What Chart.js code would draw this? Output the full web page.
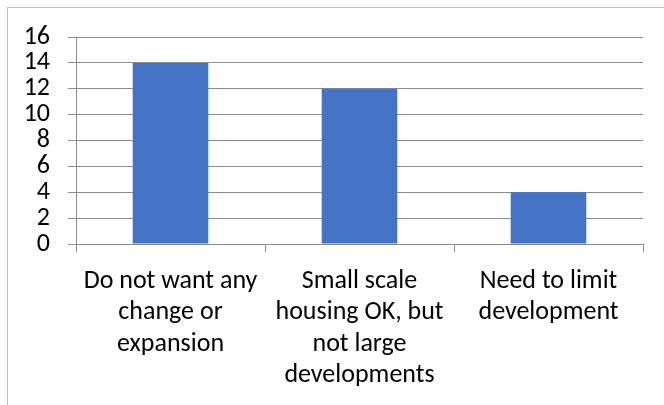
<!DOCTYPE html>
<html>
<head>
<meta charset="utf-8">
<script src="https://cdn.jsdelivr.net/npm/chart.js@4.4.0/dist/chart.umd.min.js"></script>
<style>
    html, body { margin: 0; padding: 0; background: #fff; overflow: hidden; }
    #frame {
        position: absolute; left: 7px; top: 7px; width: 700px; height: 450px;
        border: 1px solid #bfbfbf; box-sizing: border-box;
    }
    #wrap { position: absolute; left: 0; top: 0; width: 664px; height: 405px; }
</style>
</head>
<body>
<div id="frame"></div>
<div id="wrap"><canvas id="myBarChart"></canvas></div>
<script>
// -------------------------------------------------------------------------- Data

const categories = [
    ['Do not want any', 'change or', 'expansion'],
    ['Small scale', 'housing OK, but', 'not large', 'developments'],
    ['Need to limit', 'development']
]
const counts = [14, 12, 4]
const yMin = 0
const yMax = 16
const yStep = 2

let blue = '68, 114, 196'
let gridGray = '#8c8c8c'
let font = 'Calibri, Carlito, "Open Sans", sans-serif'

// -------------------------------------------------------------------------- Bar Chart Config

const dataBarChart = {
    labels: categories,
    datasets: [{
        data: counts,
        backgroundColor: 'rgb(' + blue + ')',
        categoryPercentage: 1,
        barPercentage: 0.4
    }]
}

const configBarChart = {
    type: 'bar',
    data: dataBarChart,
    options: {
        responsive: false,
        animation: false,
        layout: { padding: { top: 37, right: 21, left: 0, bottom: 0 } },
        plugins: {
            legend: { display: false },
            tooltip: { enabled: false }
        },
        scales: {
            x: {
                offset: true,
                afterFit: (scale) => { scale.height = 161 },
                grid: {
                    offset: true,
                    drawOnChartArea: false,
                    drawTicks: true,
                    tickLength: 8,
                    color: gridGray
                },
                border: { display: true, color: gridGray },
                ticks: {
                    color: '#000',
                    maxRotation: 0,
                    autoSkip: false,
                    padding: 14,
                    font: { family: font, size: 26, lineHeight: 1.2 }
                }
            },
            y: {
                min: yMin,
                max: yMax,
                afterFit: (scale) => { scale.width = 76 },
                grid: {
                    color: gridGray,
                    drawTicks: true,
                    tickLength: 8
                },
                border: { display: true, color: gridGray },
                ticks: {
                    stepSize: yStep,
                    autoSkip: false,
                    color: '#000',
                    padding: 18,
                    font: { family: font, size: 26, lineHeight: 1 }
                }
            }
        }
    }
}

// -------------------------------------------------------------------------- Render Chart
const canvas = document.getElementById('myBarChart')
canvas.width = 664
canvas.height = 405
let myBarChart = new Chart(canvas, configBarChart)
</script>
</body>
</html>
